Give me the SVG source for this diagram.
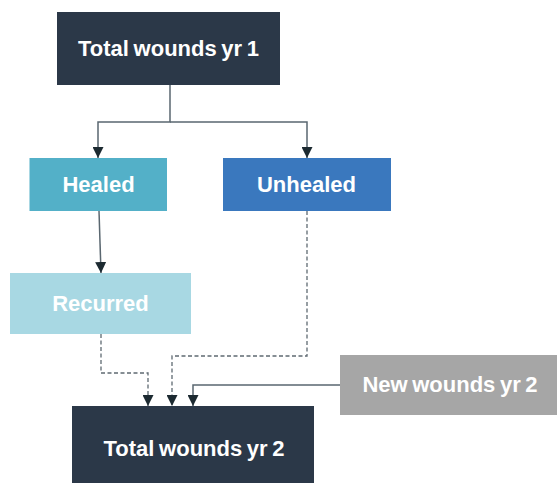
<svg xmlns="http://www.w3.org/2000/svg" width="557" height="483" viewBox="0 0 557 483">
<defs>
<style>
.lbl{font-family:"Liberation Sans",Arial,sans-serif;font-weight:bold;font-size:22px;word-spacing:-1.5px;fill:#ffffff;text-anchor:middle}
.solid{fill:none;stroke:#5a6770;stroke-width:1.5}
.dash{fill:none;stroke:#5f6a72;stroke-width:1.3;stroke-dasharray:4 2.5}
</style>
<marker id="ah" viewBox="0 0 10 10" refX="10" refY="5" markerWidth="11" markerHeight="11" markerUnits="userSpaceOnUse" orient="auto">
<path d="M0,0 L10,5 L0,10 Z" fill="#1c2a31"/>
</marker>
</defs>
<rect width="557" height="483" fill="#ffffff"/>
<g id="connectors">
<path class="solid" d="M170,85 V122 H98 V158" marker-end="url(#ah)"/>
<path class="solid" d="M170,122 H307 V158" marker-end="url(#ah)"/>
<path class="solid" d="M99,211 L101,273" marker-end="url(#ah)"/>
<path class="dash" d="M307,211 V356 H172 V406" marker-end="url(#ah)"/>
<path class="dash" d="M101,334 V373 H148 V406" marker-end="url(#ah)"/>
<path class="solid" d="M340,385 H193 V406" marker-end="url(#ah)"/>
</g>
<g id="total1">
<rect x="57" y="12" width="223" height="73" fill="#2b3848"/>
<text class="lbl" x="168.5" y="56">Total wounds yr 1</text>
</g>
<g id="healed">
<rect x="29.5" y="158" width="137.5" height="53" fill="#53b0c8"/>
<text class="lbl" x="98.5" y="192">Healed</text>
</g>
<g id="unhealed">
<rect x="223" y="158" width="168" height="53" fill="#3a78be"/>
<text class="lbl" x="306.5" y="192">Unhealed</text>
</g>
<g id="recurred">
<rect x="10" y="273" width="181" height="61" fill="#a8d8e3"/>
<text class="lbl" x="100.5" y="311">Recurred</text>
</g>
<g id="newwounds">
<rect x="340" y="355" width="217" height="60" fill="#a6a6a6"/>
<text class="lbl" x="450" y="392">New wounds yr 2</text>
</g>
<g id="total2">
<rect x="72" y="406" width="242" height="77" fill="#2b3848"/>
<text class="lbl" x="194" y="456">Total wounds yr 2</text>
</g>
</svg>
